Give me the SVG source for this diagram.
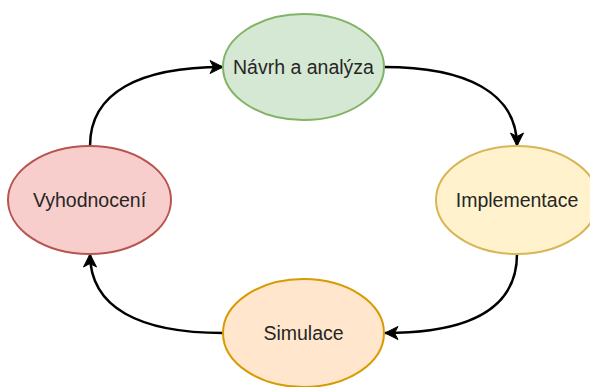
<svg xmlns="http://www.w3.org/2000/svg" width="590" height="387" viewBox="0 0 590 387">
  <style>
    .node ellipse { stroke-width: 2; }
    .node text { font-family: "Liberation Sans", Arial, sans-serif; font-size: 19.5px; fill: #262626; text-anchor: middle; dominant-baseline: central; }
    .edge { fill: none; stroke: #000; stroke-width: 2.5; marker-end: url(#arrow); }
  </style>
  <defs>
    <marker id="arrow" markerUnits="userSpaceOnUse" viewBox="-14 -8 16 16" refX="0" refY="0" markerWidth="16" markerHeight="16" orient="auto" overflow="visible">
      <path d="M 0 0 L -13 -6.5 L -9.5 0 L -13 6.5 Z" fill="#000" stroke="#000" stroke-width="1" stroke-linejoin="miter"/>
    </marker>
  </defs>

  <g id="connectors">
    <path class="edge" d="M 384 67 C 465 67 517 92 517 146"/>
    <path class="edge" d="M 517 254 C 517 308 470 333 385 333"/>
    <path class="edge" d="M 223 333 C 140 333 90 308 90 254"/>
    <path class="edge" d="M 90 146 C 90 92 140 67 223 67"/>
  </g>

  <g id="navrh" class="node">
    <ellipse cx="303.5" cy="67" rx="80.5" ry="53" fill="#d5e8d4" stroke="#82b366"/>
    <text x="303.5" y="67">Návrh a analýza</text>
  </g>

  <g id="implementace" class="node">
    <ellipse cx="517" cy="200" rx="81" ry="54" fill="#fff2cc" stroke="#d6b656"/>
    <text x="517" y="200">Implementace</text>
  </g>

  <g id="simulace" class="node">
    <ellipse cx="303.5" cy="333" rx="80.5" ry="54" fill="#ffe6cc" stroke="#d79b00"/>
    <text x="303.5" y="333">Simulace</text>
  </g>

  <g id="vyhodnoceni" class="node">
    <ellipse cx="89.5" cy="200" rx="81.5" ry="54" fill="#f8cecc" stroke="#b85450"/>
    <text x="89.5" y="200">Vyhodnocení</text>
  </g>
</svg>
